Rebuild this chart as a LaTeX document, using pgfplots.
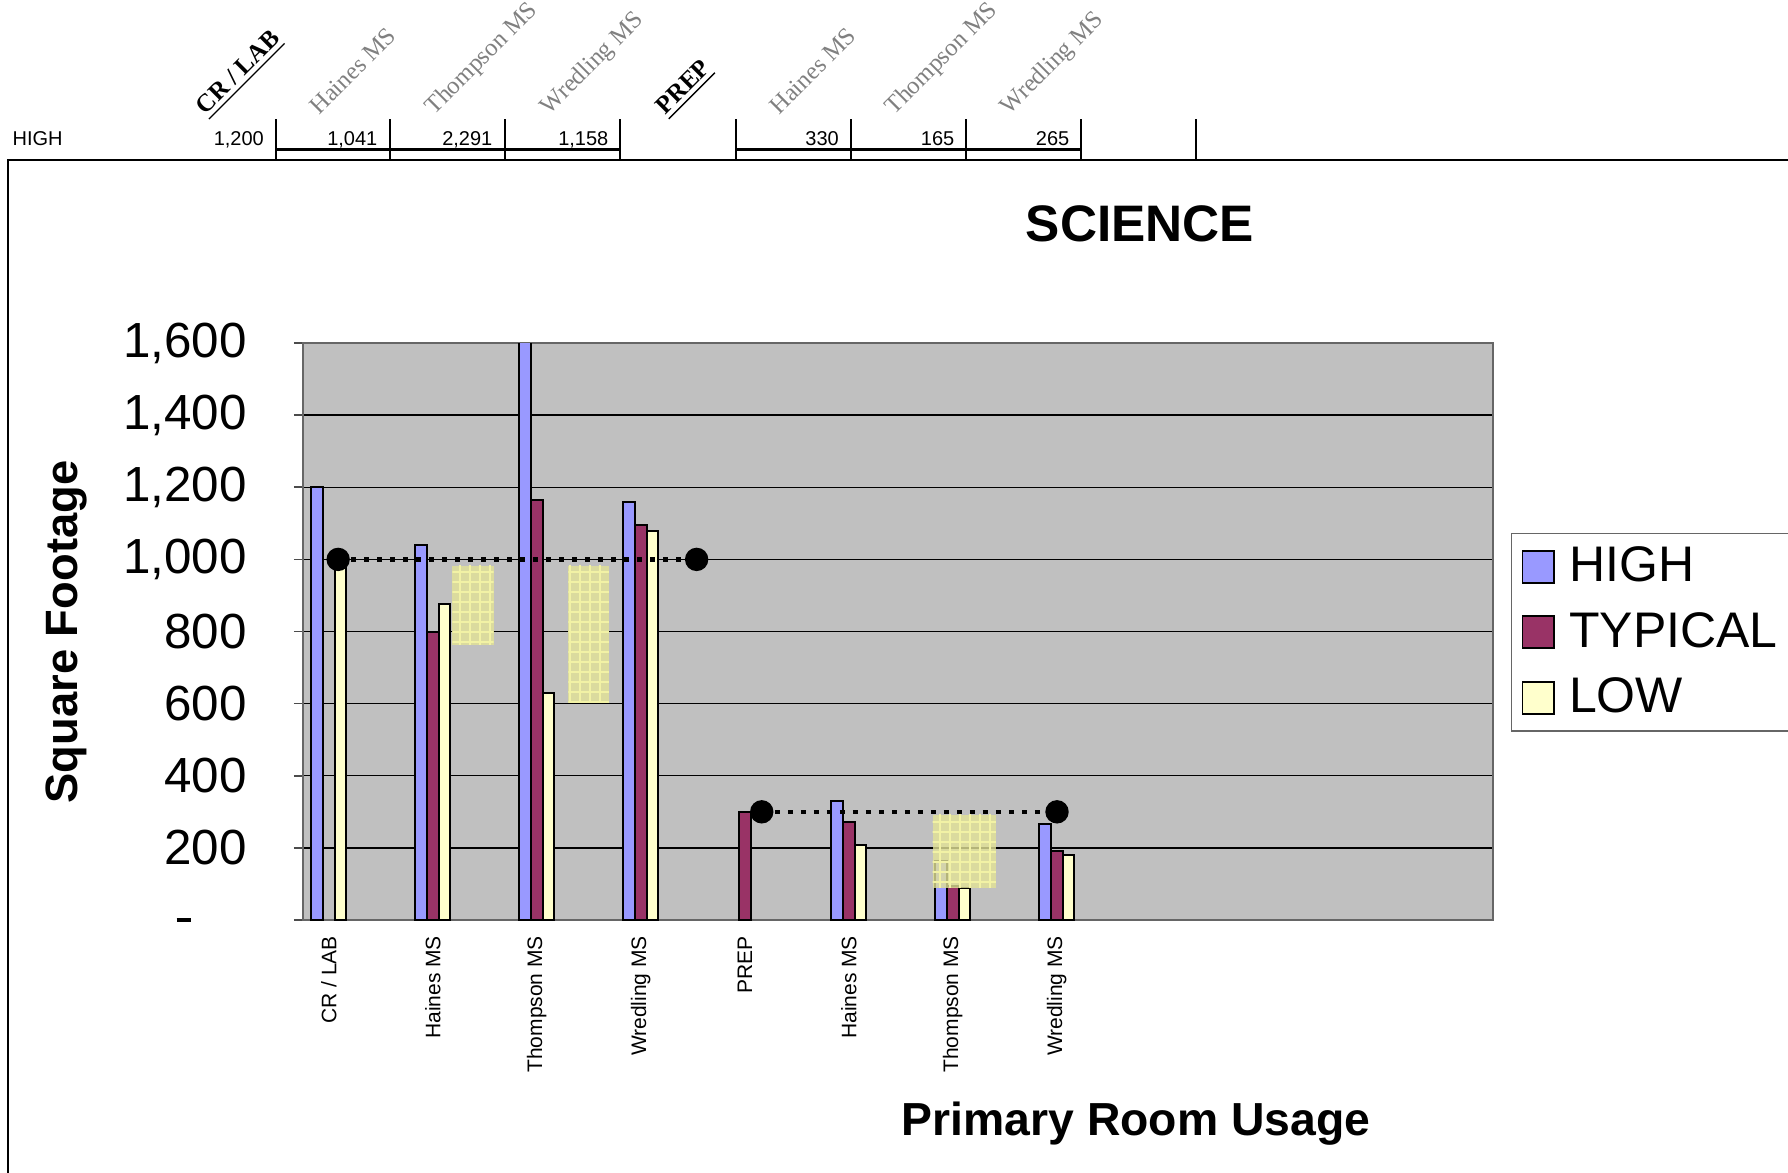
\documentclass[border=0pt]{standalone}
\usepackage{fontspec}
\setmainfont{Liberation Sans}
\newfontfamily\timesfont{Liberation Serif}
\usepackage{pgfplots}
\pgfplotsset{compat=1.18}
\usetikzlibrary{patterns}

\definecolor{highc}{RGB}{153,153,255}
\definecolor{typc}{RGB}{153,51,102}
\definecolor{lowc}{RGB}{255,255,204}
\definecolor{plotbg}{RGB}{192,192,192}
\definecolor{boxc}{RGB}{226,226,150}
\definecolor{boxgrid}{RGB}{242,242,165}
\definecolor{hdrgray}{RGB}{128,128,128}

\begin{document}
\begin{tikzpicture}
% page = 1788 x 1172 px at 0.3pt per px
\useasboundingbox (0pt,0pt) rectangle (536.4pt,-351.6pt);
\begin{scope}[x=0.3pt,y=-0.3pt]
% chart frame
\draw[black, line width=0.4pt] (8,1200) -- (8,160) -- (1800,160);
% header row
\tikzset{hval/.style={anchor=base east, inner sep=0pt, font=\fontsize{6}{7}\selectfont}}
\node[anchor=base west, inner sep=0pt, font=\fontsize{6}{7}\selectfont] at (12,145) {HIGH};
\node[hval] at (264.5,145) {1,200};
\node[hval] at (378,145) {1,041};
\node[hval] at (493,145) {2,291};
\node[hval] at (609,145) {1,158};
\node[hval] at (839.5,145) {330};
\node[hval] at (955,145) {165};
\node[hval] at (1070,145) {265};
\foreach \xx in {275.5,390,505,620,735.5,850.7,965.8,1081,1196}
  \draw[line width=0.6pt] (\xx,119) -- (\xx,160);
\draw[line width=0.7pt] (275.5,149.5) -- (620,149.5);
\draw[line width=0.7pt] (735.5,149.5) -- (1081,149.5);
% rotated column headers
\tikzset{hbold/.style={rotate=45, anchor=base west, inner sep=0pt, font=\timesfont\bfseries\fontsize{7.5}{9}\selectfont},
         hgray/.style={rotate=45, anchor=base west, inner sep=0pt, text=hdrgray, font=\timesfont\fontsize{7.4}{9}\selectfont}}
\node[hbold] at (205,116) {\underline{CR / LAB}};
\node[hgray] at (319,116) {Haines MS};
\node[hgray] at (434,116) {Thompson MS};
\node[hgray] at (549,116) {Wredling MS};
\node[hbold] at (665,116) {\underline{PREP}};
\node[hgray] at (779,116) {Haines MS};
\node[hgray] at (894,116) {Thompson MS};
\node[hgray] at (1009,116) {Wredling MS};
% titles
\node[anchor=center, inner sep=0pt, font=\bfseries\fontsize{15.4}{18}\selectfont] at (1140,224) {SCIENCE};
\node[anchor=base, inner sep=0pt, font=\bfseries\fontsize{13.9}{16}\selectfont] at (1136,1135) {Primary Room Usage};
\node[anchor=base, rotate=90, inner sep=0pt, font=\bfseries\fontsize{13.6}{16}\selectfont] at (77,632) {Square Footage};
\end{scope}

\begin{axis}[
  at={(90.9pt,-276pt)}, anchor=south west,
  scale only axis, width=357pt, height=173.1pt,
  xmin=-0.248, xmax=11.194, ymin=0, ymax=1600,
  axis background/.style={fill=plotbg},
  axis line style={black!60, line width=0.5pt},
  tick align=outside, tick pos=left,
  major tick length=2.7pt, minor tick length=1.8pt,
  xtick={0,1,2,3,4,5,6,7},
  xticklabels={CR / LAB, Haines MS, Thompson MS, Wredling MS, PREP, Haines MS, Thompson MS, Wredling MS},
  xtick style={draw=none},
  minor xtick={-0.248,0.752,1.752,2.752,3.752,4.752,5.752,6.752,7.752,8.752,9.752,10.752},
  minor x tick style={black, line width=0.5pt},
  xticklabel style={rotate=90, anchor=east, inner sep=0pt, xshift=-1.9pt, font=\fontsize{6.3}{7}\selectfont},
  ytick={0,200,400,600,800,1000,1200,1400,1600},
  yticklabels={{\rule[-0.7pt]{4.2pt}{1.4pt}\rule{16.8pt}{0pt}},200,400,600,800,{1,000},{1,200},{1,400},{1,600}},
  yticklabel style={anchor=east, inner sep=0pt, xshift=-14pt, font=\fontsize{14.8}{17}\selectfont},
  ytick style={black!70, line width=0.5pt},
  ymajorgrids=true,
  major grid style={black, line width=0.4pt},
  legend style={at={(1.0151,0.6712)}, anchor=north west, draw=black!60, line width=0.4pt,
                font=\fontsize{15}{18}\selectfont, inner xsep=3pt, inner ysep=2pt, row sep=3.7pt},
  legend cell align=left,
  legend image code/.code={\draw[#1, line width=0.5pt] (0.3pt,-4.8pt) rectangle (9.7pt,4.8pt); \path (12pt,0pt);},
]
\addplot[ybar, bar width=0.1115, bar shift=-0.1115, fill=highc, draw=black, line width=0.6pt]
  coordinates {(0,1200) (1,1041) (2,2291) (3,1158) (5,330) (6,165) (7,265)};
\addlegendentry{HIGH}
\addplot[ybar, bar width=0.1115, bar shift=0, fill=typc, draw=black, line width=0.6pt]
  coordinates {(1,800) (2,1164) (3,1095) (4,300) (5,272) (6,95) (7,192)};
\addlegendentry{TYPICAL}
\addplot[ybar, bar width=0.1115, bar shift=0.1115, fill=lowc, draw=black, line width=0.6pt]
  coordinates {(0,990) (1,876) (2,630) (3,1078) (5,207) (6,90) (7,180)};
\addlegendentry{LOW}
% shaded range boxes
\addplot[forget plot, draw=none, fill=boxc, fill opacity=0.8, postaction={pattern=grid, pattern color=boxgrid}]
  coordinates {(1.188,763) (1.586,763) (1.586,983) (1.188,983)} --cycle;
\addplot[forget plot, draw=none, fill=boxc, fill opacity=0.8, postaction={pattern=grid, pattern color=boxgrid}]
  coordinates {(2.303,603) (2.694,603) (2.694,983) (2.303,983)} --cycle;
\addplot[forget plot, draw=none, fill=boxc, fill opacity=0.8, postaction={pattern=grid, pattern color=boxgrid}]
  coordinates {(5.807,89) (6.413,89) (6.413,292) (5.807,292)} --cycle;
% dotted reference lines
\addplot[forget plot, black, line width=1.4pt, dash pattern=on 1.6pt off 2.3pt, mark=*, mark size=2.8pt, mark options={solid, fill=black}]
  coordinates {(0.09,1000) (3.537,1000)};
\addplot[forget plot, black, line width=1.4pt, dash pattern=on 1.6pt off 2.3pt, mark=*, mark size=2.8pt, mark options={solid, fill=black}]
  coordinates {(4.163,300) (7.002,300)};
\end{axis}
\end{tikzpicture}
\end{document}
